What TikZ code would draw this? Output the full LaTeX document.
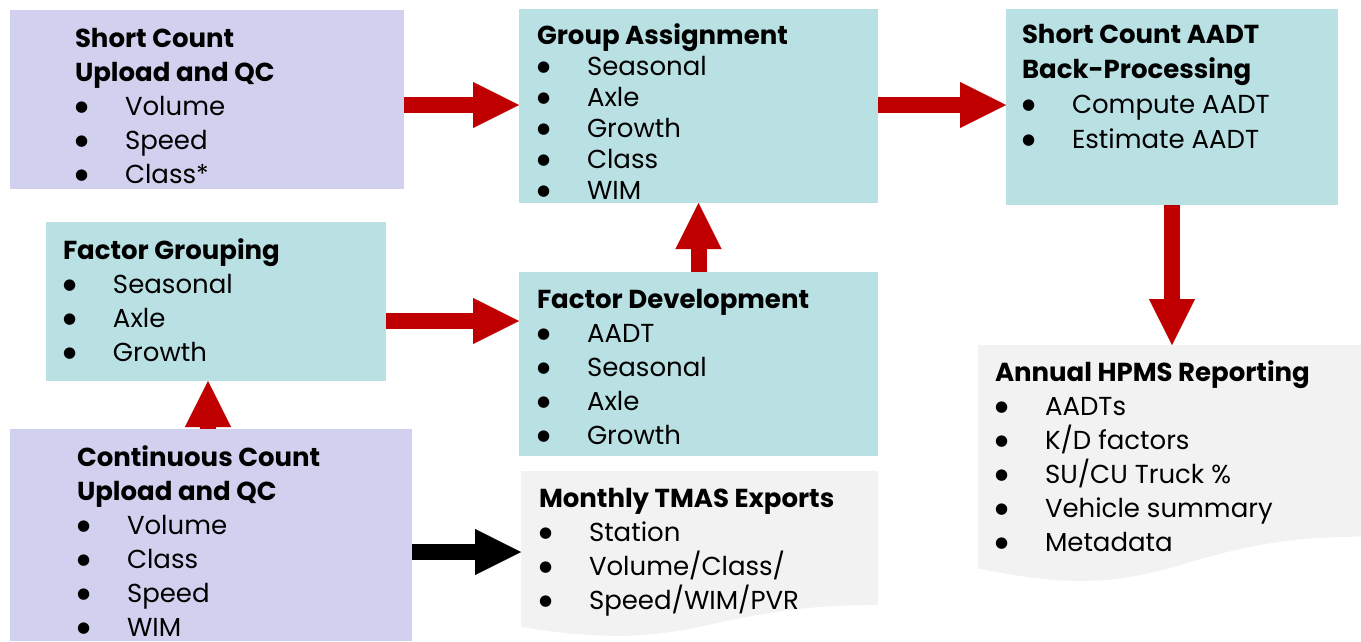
\documentclass[tikz,border=0pt]{standalone}
\usepackage{fontspec}
\setmainfont{Poppins}
\newfontfamily\symfont{DejaVu Sans}
\usetikzlibrary{arrows.meta}
\definecolor{lav}{HTML}{D1D1EF}
\definecolor{tealbg}{HTML}{B9E0E3}
\definecolor{docgray}{HTML}{F2F2F2}
\definecolor{arrowred}{HTML}{C00000}
\newlength\bulletw
\setlength\bulletw{50pt}
\newcommand\bulletdot{\raisebox{4pt}{\symfont\fontsize{15}{15}\selectfont ●}}
\newcommand\bl[1]{\makebox[\bulletw][l]{\bulletdot}#1}
\newcommand\boxtext[2][34]{\parbox[t]{360pt}{\fontsize{26}{#1}\selectfont\raggedright #2}}
\newcommand\docfill[4]{\fill[docgray] (#1,#2) -- ({#1+#3},#2) -- ({#1+#3},{#2+0.802*#4}) .. controls ({#1+#3/2},{#2+0.802*#4}) and ({#1+#3/2},{#2+1.1075*#4}) .. (#1,{#2+0.934*#4}) -- cycle;}
\begin{document}
\begin{tikzpicture}[x=1pt,y=-1pt,
  lavbox/.style={fill=lav, draw=none, anchor=north west, inner sep=0pt, outer sep=0pt},
  tealbox/.style={fill=tealbg, draw=none, anchor=north west, inner sep=0pt, outer sep=0pt},
  docnode/.style={draw=none, anchor=north west, inner sep=0pt, outer sep=0pt},
  txt/.style={anchor=base west, inner sep=0pt, outer sep=0pt},
  redarrow/.style={draw=arrowred, line width=16pt, -{Triangle[length=46pt,width=46pt,line width=0.1pt]}},
  blackarrow/.style={draw=black, line width=16pt, -{Triangle[length=46pt,width=46pt,line width=0.1pt]}}]
\useasboundingbox (0,0) rectangle (1361,641);

% boxes
\node[lavbox, minimum width=394pt, minimum height=179pt] (b1) at (10,10) {};
\node[tealbox, minimum width=359pt, minimum height=194pt] (b2) at (519,9) {};
\node[tealbox, minimum width=332pt, minimum height=196pt] (b3) at (1006,9) {};
\node[tealbox, minimum width=340pt, minimum height=159pt] (b4) at (46,222) {};
\node[tealbox, minimum width=359pt, minimum height=184pt] (b5) at (519,272) {};
\node[lavbox, minimum width=402pt, minimum height=212pt] (b6) at (10,429) {};
\docfill{521}{471}{357}{167}
\node[docnode, minimum width=357pt, minimum height=167pt] (b7) at (521,471) {};
\docfill{978}{345}{383}{239}
\node[docnode, minimum width=383pt, minimum height=239pt] (b8) at (978,345) {};

% texts
\node[txt] (t1) at (75,47) {\boxtext{\textbf{Short Count}\\\textbf{Upload and QC}\\\bl{Volume}\\\bl{Speed}\\\bl{Class*}}};
\node[txt] (t2) at (537,44) {\boxtext[31]{\textbf{Group Assignment}\\\bl{Seasonal}\\\bl{Axle}\\\bl{Growth}\\\bl{Class}\\\bl{WIM}}};
\node[txt] (t3) at (1022,43) {\boxtext[35]{\textbf{Short Count AADT}\\\textbf{Back-Processing}\\\bl{Compute AADT}\\\bl{Estimate AADT}}};
\node[txt] (t4) at (63,259) {\boxtext{\textbf{Factor Grouping}\\\bl{Seasonal}\\\bl{Axle}\\\bl{Growth}}};
\node[txt] (t5) at (537,308) {\boxtext{\textbf{Factor Development}\\\bl{AADT}\\\bl{Seasonal}\\\bl{Axle}\\\bl{Growth}}};
\node[txt] (t6) at (77,466) {\boxtext{\textbf{Continuous Count}\\\textbf{Upload and QC}\\\bl{Volume}\\\bl{Class}\\\bl{Speed}\\\bl{WIM}}};
\node[txt] (t7) at (539,507) {\boxtext{\textbf{Monthly TMAS Exports}\\\bl{Station}\\\bl{Volume/Class/}\\\bl{Speed/WIM/PVR}}};
\node[txt] (t8) at (995,381) {\boxtext{\textbf{Annual HPMS Reporting}\\\bl{AADTs}\\\bl{K/D factors}\\\bl{SU/CU Truck \%}\\\bl{Vehicle summary}\\\bl{Metadata}}};

% arrows
\draw[redarrow] (b1.east |- 0,105) -- (b2.west |- 0,105);
\draw[redarrow] (b2.east |- 0,105) -- (b3.west |- 0,105);
\draw[redarrow] (b3.south) -- (b3.south |- b8.north);
\draw[redarrow] (b4.east |- 0,321) -- (b5.west |- 0,321);
\draw[redarrow] (b5.north) -- (b5.north |- b2.south);
\draw[redarrow] (b6.north -| 208,0) -- (b4.south -| 208,0);
\draw[blackarrow] (b6.east |- 0,552) -- (b7.west |- 0,552);
\end{tikzpicture}
\end{document}
